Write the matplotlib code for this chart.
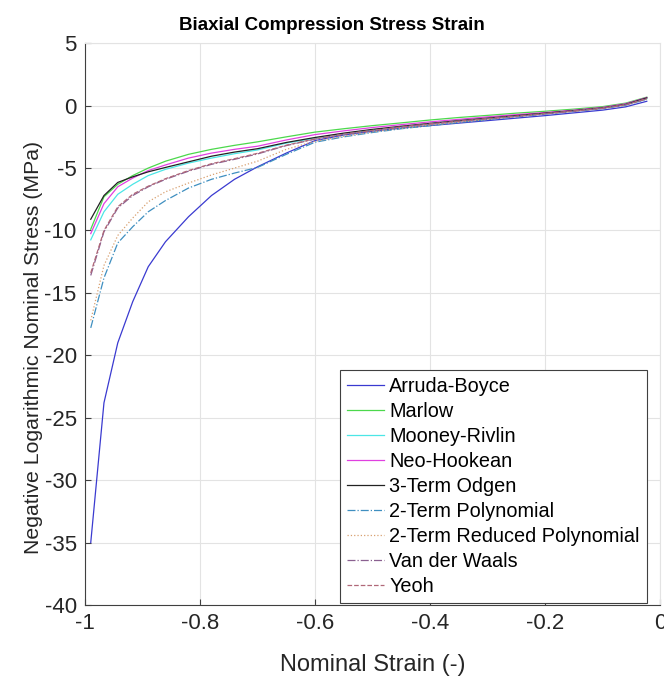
import matplotlib
matplotlib.use("Agg")
import matplotlib.pyplot as plt

plt.rcParams['font.family'] = ['Liberation Sans', 'DejaVu Sans']
plt.rcParams['axes.unicode_minus'] = False

# strain values (shared by every model)
strain = [-0.99, -0.967, -0.943, -0.917, -0.89, -0.86, -0.82, -0.78, -0.74, -0.70,
          -0.65, -0.60, -0.55, -0.50, -0.45, -0.40, -0.35, -0.30, -0.25, -0.20,
          -0.15, -0.10, -0.06, -0.023]

arruda_boyce = [-35.0, -23.8, -19.0, -15.7, -12.9, -10.9, -8.9, -7.2, -5.9, -4.9,
                -3.8, -2.8, -2.35, -2.05, -1.8, -1.6, -1.4, -1.2, -1.0, -0.8,
                -0.58, -0.36, -0.1, 0.35]
marlow = [-9.9, -7.3, -6.3, -5.6, -5.0, -4.45, -3.9, -3.5, -3.18, -2.9,
          -2.5, -2.12, -1.85, -1.6, -1.38, -1.15, -0.95, -0.78, -0.6, -0.45,
          -0.28, -0.08, 0.2, 0.68]
mooney_rivlin = [-10.75, -8.5, -7.1, -6.3, -5.6, -5.1, -4.6, -4.2, -3.85, -3.55,
                 -3.0, -2.6, -2.25, -1.95, -1.7, -1.45, -1.22, -1.02, -0.82, -0.62,
                 -0.42, -0.2, 0.08, 0.55]
neo_hookean = [-10.25, -7.85, -6.5, -5.8, -5.2, -4.75, -4.2, -3.8, -3.5, -3.25,
               -2.75, -2.32, -2.02, -1.75, -1.52, -1.3, -1.1, -0.9, -0.72, -0.55,
               -0.36, -0.14, 0.15, 0.65]
ogden3 = [-9.1, -7.2, -6.15, -5.7, -5.3, -4.95, -4.5, -4.05, -3.72, -3.45,
          -2.95, -2.55, -2.2, -1.9, -1.65, -1.42, -1.2, -1.0, -0.8, -0.6,
          -0.4, -0.18, 0.1, 0.62]
poly2 = [-17.8, -13.8, -11.0, -9.7, -8.5, -7.6, -6.6, -5.9, -5.4, -4.95,
         -3.9, -2.93, -2.5, -2.15, -1.85, -1.6, -1.35, -1.12, -0.9, -0.68,
         -0.46, -0.23, 0.04, 0.5]
reduced_poly2 = [-17.2, -12.8, -10.4, -9.0, -7.7, -6.9, -6.2, -5.55, -5.0, -4.45,
                 -3.5, -2.85, -2.45, -2.1, -1.82, -1.56, -1.32, -1.1, -0.88, -0.66,
                 -0.44, -0.21, 0.06, 0.52]
van_der_waals = [-13.6, -10.1, -8.2, -7.2, -6.5, -5.9, -5.25, -4.7, -4.3, -3.87,
                 -3.2, -2.68, -2.3, -2.0, -1.72, -1.48, -1.25, -1.05, -0.85, -0.65,
                 -0.44, -0.22, 0.06, 0.55]
yeoh = [-13.4, -10.0, -8.1, -7.1, -6.45, -5.85, -5.2, -4.65, -4.25, -3.82,
        -3.17, -2.66, -2.28, -1.98, -1.7, -1.46, -1.24, -1.04, -0.84, -0.64,
        -0.43, -0.21, 0.07, 0.56]

labels = ['Arruda-Boyce', 'Marlow', 'Mooney-Rivlin', 'Neo-Hookean', '3-Term Odgen',
          '2-Term Polynomial', '2-Term Reduced Polynomial', 'Van der Waals', 'Yeoh']
series = [arruda_boyce, marlow, mooney_rivlin, neo_hookean, ogden3,
          poly2, reduced_poly2, van_der_waals, yeoh]
colors = ['#3a3ad0', '#4cd84c', '#4ce6e6', '#e040e0', '#222222',
          '#3f8fc0', '#d8a070', '#8a6090', '#b06878']
styles = ['-', '-', '-', '-', '-', '-.', ':', '-.', '--']

fig = plt.figure(figsize=(6.64, 6.86), dpi=100)
ax = fig.add_axes([0.128, 0.118, 0.866, 0.819])

for y, lab, c, ls in zip(series, labels, colors, styles):
    ax.plot(strain, y, color=c, linestyle=ls, linewidth=0.9, label=lab)

ax.set_xlim(-1, 0)
ax.set_ylim(-40, 5)
ax.set_xticks([-1, -0.8, -0.6, -0.4, -0.2, 0])
ax.set_xticklabels(['-1', '-0.8', '-0.6', '-0.4', '-0.2', '0'])
ax.set_yticks(range(-40, 6, 5))
ax.grid(True, color='#e3e3e3', linewidth=0.8)
ax.set_axisbelow(True)
ax.tick_params(direction='in', length=4, labelsize=16, color='#404040',
               labelcolor='#262626', top=False, right=False, pad=6)
for s in ['left', 'bottom']:
    ax.spines[s].set_color('#404040')
for s in ['top', 'right']:
    ax.spines[s].set_color('#e3e3e3')

ax.set_xlabel('Nominal Strain (-)', fontsize=17, color='#262626')
ax.xaxis.set_label_coords(0.501, -0.088)
ax.set_ylabel('Negative Logarithmic Nominal Stress (MPa)', fontsize=15.3,
              color='#262626', va='center')
ax.yaxis.set_label_coords(-0.09, 0.459)
fig.text(0.5, 0.963, 'Biaxial Compression Stress Strain', fontsize=13.5,
         fontweight='bold', ha='center', va='center')

leg = ax.legend(loc='lower right', bbox_to_anchor=(0.977, 0.004), borderaxespad=0,
                fontsize=14.3, handlelength=1.9, labelspacing=0.3, handletextpad=0.25,
                borderpad=0.35, fancybox=False, framealpha=1, edgecolor='#404040')
leg.get_frame().set_linewidth(0.8)

fig.savefig('out.png', dpi=100)
